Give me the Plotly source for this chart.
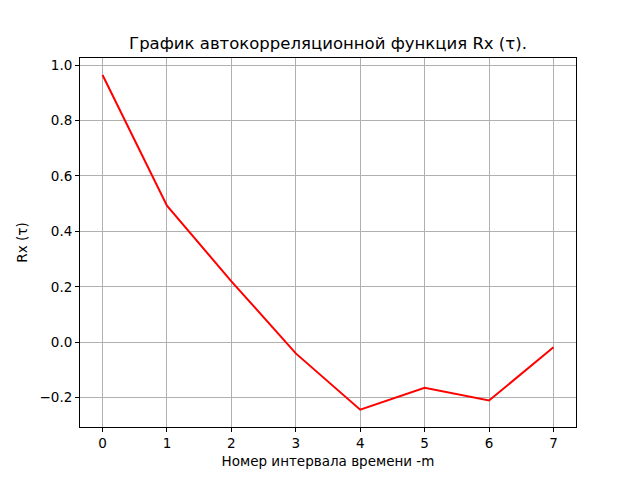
import plotly.graph_objects as go

m = [0, 1, 2, 3, 4, 5, 6, 7]
rx = [0.964, 0.493, 0.22, -0.04, -0.243, -0.164, -0.21, -0.018]

fig = go.Figure()
fig.add_trace(go.Scatter(x=m, y=rx, mode="lines",
                         line=dict(color="red", width=2)))

axis_style = dict(showline=True, linecolor="black", linewidth=1, mirror=True,
                  showgrid=True, gridcolor="#b0b0b0", gridwidth=1,
                  ticks="outside", ticklen=4, tickcolor="black",
                  zeroline=False, tickfont=dict(size=13.5, color="black"))

fig.update_xaxes(range=[-0.35, 7.35], dtick=1,
                 title=dict(text="Номер интервала времени -m", font=dict(size=13.5, color="black"), standoff=6),
                 **axis_style)
fig.update_yaxes(range=[-0.3055, 1.0255], dtick=0.2, tickformat=".1f",
                 title=dict(text="Rx (τ)", font=dict(size=13.5, color="black"), standoff=8),
                 **axis_style)

# page body has an 8px margin, so shift everything up-left by 8px
fig.update_layout(
    width=640, height=480,
    margin=dict(l=72, r=72, t=50, b=61),
    plot_bgcolor="white", paper_bgcolor="white",
    font=dict(family="DejaVu Sans", color="black"),
    title=dict(text="График автокорреляционной функция Rx (τ).", x=0.5, xanchor="center",
               y=0.927, yanchor="middle", font=dict(size=16.5, color="black")),
    showlegend=False,
)

fig.write_html("out.html")
